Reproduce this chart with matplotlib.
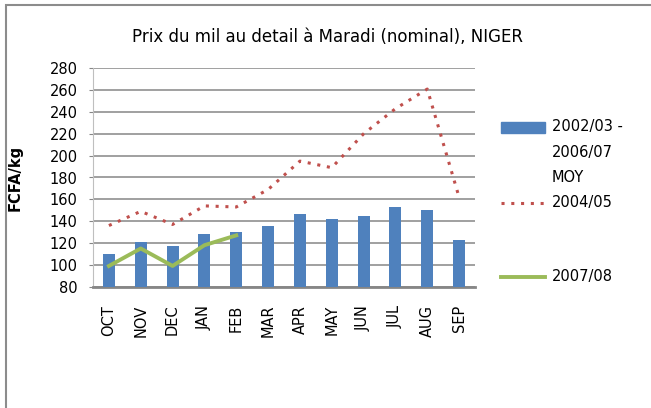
import matplotlib
matplotlib.use("Agg")
import matplotlib.pyplot as plt
from matplotlib.patches import Rectangle
from matplotlib.lines import Line2D
import numpy as np

plt.rcParams['font.family'] = ['DejaVu Sans']

months = ["OCT", "NOV", "DEC", "JAN", "FEB", "MAR", "APR", "MAY", "JUN", "JUL", "AUG", "SEP"]
moy_0207 = [110, 121, 117, 128, 130, 136, 147, 142, 145, 153, 150, 123]
y_2004_05 = [136, 149, 137, 154, 153, 169, 195, 189, 220, 243, 261, 162]
y_2007_08 = [99, 115, 99, 118, 127]
yticks = list(range(80, 281, 20))

blue = "#4F81BD"
red = "#C0504D"
green = "#9BBB59"
grid = "#868686"

fig = plt.figure(figsize=(6.51, 4.08), dpi=100)
fig.patches.append(Rectangle((6 / 651, -0.1), 1.2, 1 - 5 / 408 + 0.1,
                             transform=fig.transFigure, fill=False,
                             edgecolor="#8C8C8C", linewidth=1.5))

ax = fig.add_axes([93 / 651, 1 - 286.7 / 408, 382 / 651, 218.4 / 408])
x = np.arange(len(months))

ax.bar(x, np.array(moy_0207) - 80, bottom=80, width=0.38, color=blue, zorder=3)
ax.plot(x, y_2004_05, color=red, linestyle=(0, (1, 2.2)), linewidth=2.2, zorder=4)
ax.plot(x[:len(y_2007_08)], y_2007_08, color=green, linewidth=2.8, zorder=5)

ax.set_xlim(-0.5, len(months) - 0.5)
ax.set_ylim(80, 280)
ax.set_yticks(yticks)
ax.set_yticklabels([str(t) for t in yticks], fontsize=10.5)
ax.set_xticks(x)
ax.set_xticklabels(months, rotation=90, fontsize=10.5)
ax.tick_params(axis="x", length=0, pad=13)
ax.tick_params(axis="y", length=3, color=grid, pad=8)
ax.grid(axis="y", color=grid, linewidth=1.1, zorder=0)
for s in ["top", "right"]:
    ax.spines[s].set_visible(False)
ax.spines["left"].set_color("#BFBFBF")
ax.spines["bottom"].set_color(grid)
ax.spines["bottom"].set_linewidth(2)
ax.set_ylabel("FCFA/kg", fontsize=10.5, fontweight="bold")
ax.yaxis.set_label_coords((23 - 93) / 382, 0.5)

fig.text(328 / 651, 1 - 37 / 408, "Prix du mil au detail à Maradi (nominal), NIGER",
         ha="center", va="center", fontsize=12)

# legend
fig.patches.append(Rectangle((501 / 651, 1 - 133 / 408), 44 / 651, 11 / 408,
                             transform=fig.transFigure, color=blue))
fig.lines.append(Line2D([501 / 651, 545 / 651], [1 - 203 / 408] * 2, transform=fig.transFigure,
                        color=red, linestyle=(0, (1, 2.2)), linewidth=2.2))
fig.lines.append(Line2D([501 / 651, 545 / 651], [1 - 277 / 408] * 2, transform=fig.transFigure,
                        color=green, linewidth=2.8))
for txt, yy in [("2002/03 -", 127), ("2006/07", 153), ("MOY", 177), ("2004/05", 203), ("2007/08", 277)]:
    fig.text(552 / 651, 1 - yy / 408, txt, ha="left", va="center", fontsize=10.5)

fig.savefig("out.png", dpi=100)
